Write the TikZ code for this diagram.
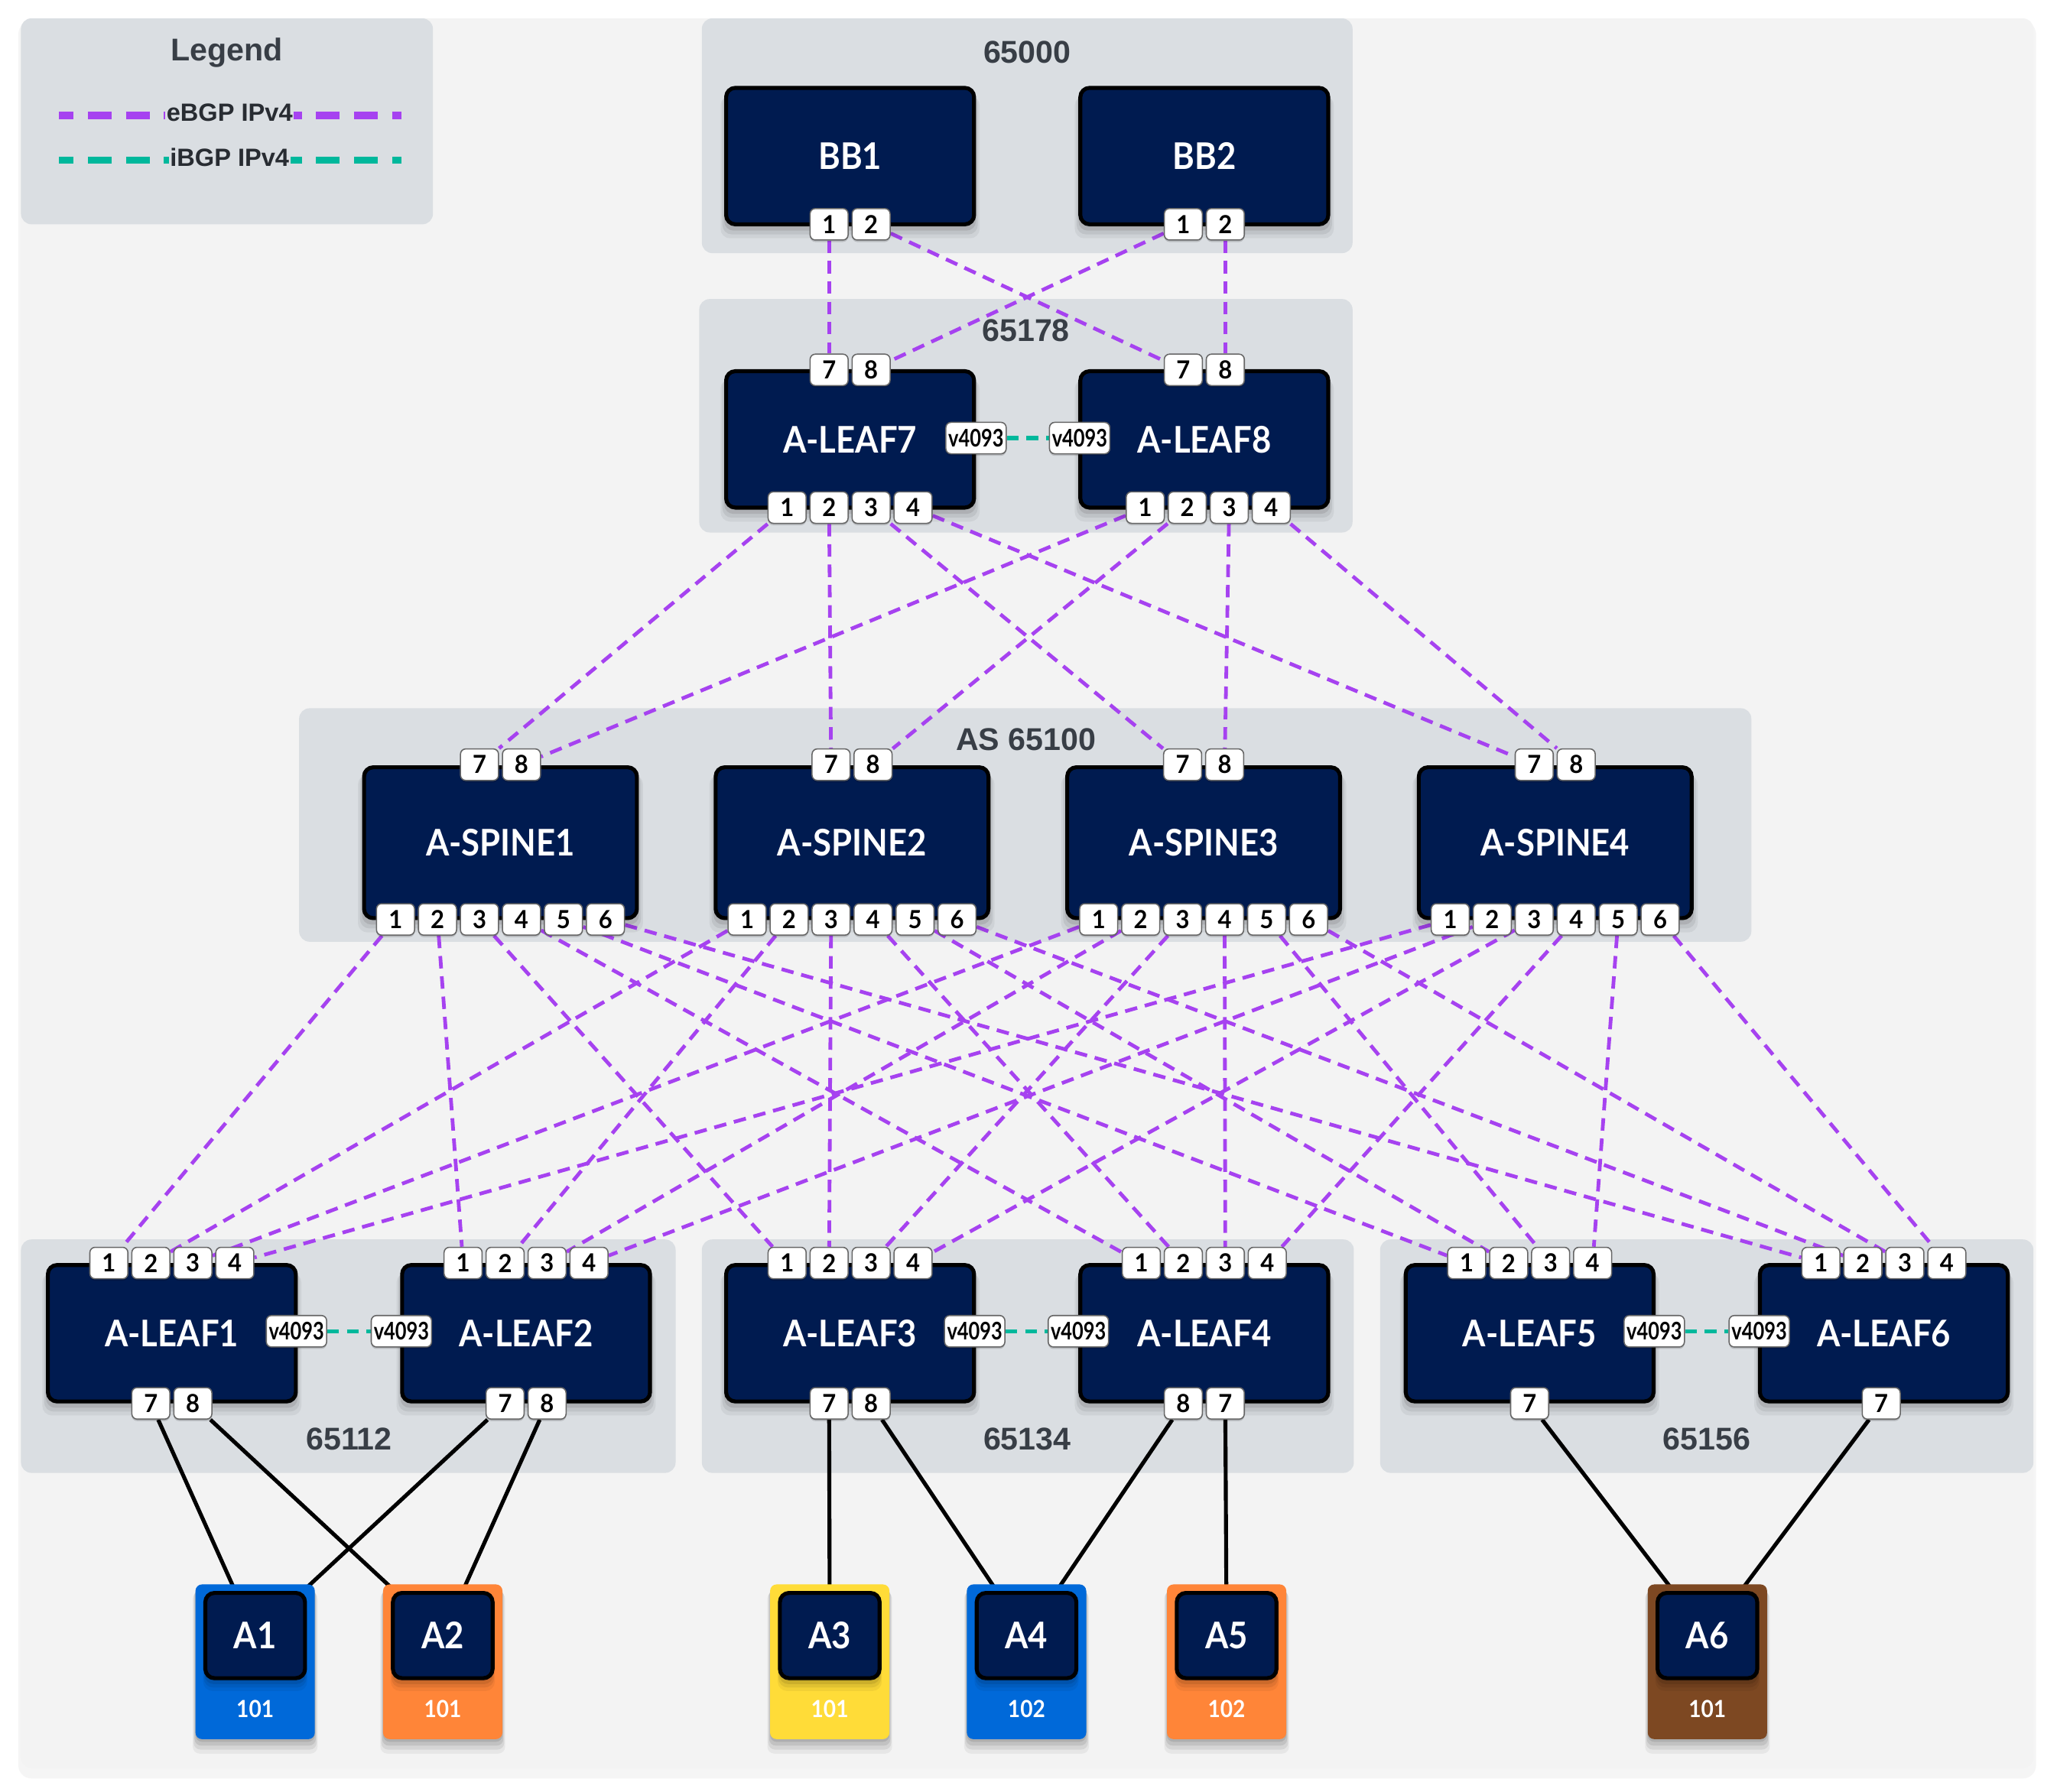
\documentclass[tikz,border=0pt]{standalone}
\usepackage{fontspec}
\usetikzlibrary{shadows}
\newfontfamily\devfam{Lato}[FakeStretch=0.91]
\newfontfamily\portfam{Lato}[FakeStretch=0.95]
\newfontfamily\vfam{Lato}[FakeStretch=0.8]
\newfontfamily\arfam{Liberation Sans}
\definecolor{navy}{RGB}{0,27,80}
\definecolor{grpc}{RGB}{218,222,226}
\definecolor{panel}{RGB}{243,243,243}
\definecolor{ebgp}{RGB}{166,66,240}
\definecolor{ibgp}{RGB}{0,184,156}
\definecolor{lbl}{RGB}{56,62,70}
\definecolor{legc}{RGB}{40,44,50}
\definecolor{hblue}{RGB}{0,105,217}
\definecolor{horange}{RGB}{255,133,56}
\definecolor{hyellow}{RGB}{255,220,56}
\definecolor{hbrown}{RGB}{125,72,34}
\pgfdeclarelayer{bg}
\pgfdeclarelayer{links}
\pgfsetlayers{bg,links,main}
\begin{document}
\begin{tikzpicture}[x=1pt,y=-1pt,
  softshadow/.style={
    drop shadow={shadow xshift=0pt, shadow yshift=-2pt, shadow scale=1.0, opacity=0.10, fill=black},
    drop shadow={shadow xshift=0pt, shadow yshift=-4pt, shadow scale=1.015, opacity=0.09, fill=black},
    drop shadow={shadow xshift=0pt, shadow yshift=-6pt, shadow scale=1.03, opacity=0.07, fill=black},
    drop shadow={shadow xshift=0pt, shadow yshift=-8pt, shadow scale=1.045, opacity=0.05, fill=black}},
  grplabel/.style={font=\arfam\bfseries\fontsize{24}{26}\selectfont, text=lbl, inner sep=0pt},
  dev/.style={draw=black, line width=3pt, fill=navy, rounded corners=7pt, text=white, inner sep=0pt,
    font=\devfam\bfseries\fontsize{28}{30}\selectfont, softshadow},
  leafbox/.style={dev, minimum width=189pt, minimum height=104pt},
  spinebox/.style={dev, minimum width=208pt, minimum height=115pt},
  hostbox/.style={dev, minimum width=76pt, minimum height=65pt},
  port/.style={draw=black!60, line width=0.9pt, fill=white, rounded corners=4pt,
    minimum width=29pt, minimum height=24pt, inner sep=0pt, text=black,
    font=\portfam\bfseries\fontsize{19}{20}\selectfont,
    drop shadow={shadow xshift=0pt, shadow yshift=-1.5pt, opacity=0.15, fill=black}},
  vport/.style={port, minimum width=46pt, font=\vfam\bfseries\fontsize{18.5}{20}\selectfont},
  eb/.style={draw=ebgp, line width=2.8pt, dash pattern=on 9.5pt off 6pt},
  ib/.style={draw=ibgp, line width=3.2pt, dash pattern=on 9pt off 6pt},
  hl/.style={draw=black, line width=3pt},
  tag/.style={rounded corners=5pt, minimum width=91pt, minimum height=118pt, inner sep=0pt, softshadow},
  vlan/.style={text=white, font=\devfam\bfseries\fontsize{18}{20}\selectfont, inner sep=0pt},
  legtext/.style={fill=grpc, inner sep=1pt, text=legc, font=\arfam\bfseries\fontsize{19}{21}\selectfont}
]
\useasboundingbox (0,0) rectangle (1568,1366);
\begin{pgfonlayer}{bg}
  \fill[white] (0,0) rectangle (1568,1366);
  \fill[black, opacity=0.04, rounded corners=10pt] (14,16) rectangle (1552,1356);
  \fill[panel, rounded corners=8pt] (16,14) rectangle (1550,1348);
  % groups
  \fill[grpc, rounded corners=8pt] (16,14) rectangle (330,171);
  \fill[grpc, rounded corners=8pt] (535,14) rectangle (1031,193);
  \fill[grpc, rounded corners=8pt] (533,228) rectangle (1031,406);
  \fill[grpc, rounded corners=8pt] (228,540) rectangle (1335,718);
  \fill[grpc, rounded corners=8pt] (16,945) rectangle (515,1123);
  \fill[grpc, rounded corners=8pt] (535,945) rectangle (1032,1123);
  \fill[grpc, rounded corners=8pt] (1052,945) rectangle (1550,1123);
  \node[grplabel] (t0) at (173,40) {Legend};
  \node[grplabel] (t1) at (783,40) {65000};
  \node[grplabel] (t2) at (782,252) {65178};
  \node[grplabel] (t3) at (782,564) {AS 65100};
  \node[grplabel] (t4) at (266,1097) {65112};
  \node[grplabel] (t5) at (783,1097) {65134};
  \node[grplabel] (t6) at (1301,1097) {65156};
  % legend
  \coordinate (le1) at (45,88); \coordinate (le2) at (306,88);
  \coordinate (li1) at (45,122); \coordinate (li2) at (306,122);
  \draw[draw=ebgp, line width=5.5pt, dash pattern=on 18pt off 11pt, dash phase=7pt] (le1) -- (le2);
  \draw[draw=ibgp, line width=5.5pt, dash pattern=on 18pt off 11pt, dash phase=7pt] (li1) -- (li2);
  \node[legtext] (lg1) at (175,86) {eBGP IPv4};
  \node[legtext] (lg2) at (175,120) {iBGP IPv4};
\end{pgfonlayer}

% Backbone
\node[leafbox] (bb1) at (648,119) {BB1};
\node[leafbox] (bb2) at (918,119) {BB2};
\node[port] (bb1-1) at (632,171) {1};
\node[port] (bb1-2) at (664,171) {2};
\node[port] (bb2-1) at (902,171) {1};
\node[port] (bb2-2) at (934,171) {2};

% Leaf7 / Leaf8
\node[leafbox] (l7) at (648,335) {A-LEAF7};
\node[leafbox] (l8) at (918,335) {A-LEAF8};
\node[port] (l7-7) at (632,282) {7};
\node[port] (l7-8) at (664,282) {8};
\node[port] (l8-7) at (902,282) {7};
\node[port] (l8-8) at (934,282) {8};
\foreach \pn in {1,...,4} {
  \node[port] (l7-\pn) at ({600+32*(\pn-1)},387) {\pn};
  \node[port] (l8-\pn) at ({873+32*(\pn-1)},387) {\pn};
}
\node[vport] (l7-v) at (744,334) {v4093};
\node[vport] (l8-v) at (823,334) {v4093};

% Spines
\foreach \sn/\cx in {1/381.5,2/649.5,3/917.5,4/1185.5} {
  \node[spinebox] (s\sn) at (\cx,642.5) {A-SPINE\sn};
  \node[port] (s\sn-7) at (\cx-16,583) {7};
  \node[port] (s\sn-8) at (\cx+16,583) {8};
  \foreach \pn in {1,...,6} {
    \node[port] (s\sn-\pn) at ({\cx-80+32*(\pn-1)},701) {\pn};
  }
}

% Leaves 1-6
\foreach \lx/\cx in {1/131,2/401,3/648,4/918,5/1166,6/1436} {
  \node[leafbox] (l\lx) at (\cx,1016.5) {A-LEAF\lx};
  \foreach \pn in {1,...,4} {
    \node[port] (l\lx-\pn) at ({\cx-48+32*(\pn-1)},963) {\pn};
  }
}
\node[port] (l1-7) at (115,1070) {7};
\node[port] (l1-8) at (147,1070) {8};
\node[port] (l2-7) at (385,1070) {7};
\node[port] (l2-8) at (417,1070) {8};
\node[port] (l3-7) at (632,1070) {7};
\node[port] (l3-8) at (664,1070) {8};
\node[port] (l4-8) at (902,1070) {8};
\node[port] (l4-7) at (934,1070) {7};
\node[port] (l5-7) at (1166,1070) {7};
\node[port] (l6-7) at (1434,1070) {7};
\node[vport] (l1-v) at (226,1015) {v4093};
\node[vport] (l2-v) at (306,1015) {v4093};
\node[vport] (l3-v) at (743,1015) {v4093};
\node[vport] (l4-v) at (822,1015) {v4093};
\node[vport] (l5-v) at (1261,1015) {v4093};
\node[vport] (l6-v) at (1341,1015) {v4093};

% Hosts
\foreach \hn/\cx/\col/\vl in {1/194.5/hblue/101, 2/337.5/horange/101, 3/632.5/hyellow/101, 4/782.5/hblue/102, 5/935/horange/102, 6/1301.5/hbrown/101} {
  \node[tag, fill=\col] (tag\hn) at (\cx,1267) {};
  \node[hostbox] (a\hn) at (\cx,1247) {A\hn};
  \node[vlan] (v\hn) at (\cx,1303) {\vl};
}

\begin{pgfonlayer}{links}
  % backbone to leaf7/8
  \draw[eb] (bb1-1) -- (l7-7);
  \draw[eb] (bb1-2) -- (l8-7);
  \draw[eb] (bb2-1) -- (l7-8);
  \draw[eb] (bb2-2) -- (l8-8);
  % leaf7/8 to spines
  \foreach \sn in {1,...,4} {
    \draw[eb] (l7-\sn) -- (s\sn-7);
    \draw[eb] (l8-\sn) -- (s\sn-8);
  }
  % spines to leaves
  \foreach \sn in {1,...,4} {
    \foreach \pn in {1,...,6} {
      \draw[eb] (s\sn-\pn) -- (l\pn-\sn);
    }
  }
  % iBGP
  \draw[ib] (l7-v) -- (l8-v);
  \draw[ib] (l1-v) -- (l2-v);
  \draw[ib] (l3-v) -- (l4-v);
  \draw[ib] (l5-v) -- (l6-v);
  % hosts
  \draw[hl] (l1-7) -- (a1);
  \draw[hl] (l2-7) -- (a1);
  \draw[hl] (l1-8) -- (a2);
  \draw[hl] (l2-8) -- (a2);
  \draw[hl] (l3-7) -- (a3);
  \draw[hl] (l3-8) -- (a4);
  \draw[hl] (l4-8) -- (a4);
  \draw[hl] (l4-7) -- (a5);
  \draw[hl] (l5-7) -- (a6);
  \draw[hl] (l6-7) -- (a6);
\end{pgfonlayer}
\end{tikzpicture}
\end{document}
